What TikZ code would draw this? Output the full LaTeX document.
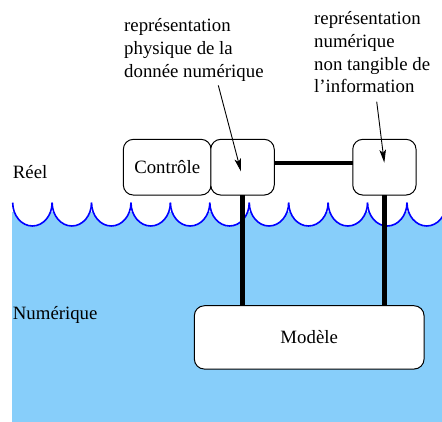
\documentclass[tikz,border=0pt]{standalone}
\usepackage{fontspec}
\setmainfont{Liberation Serif}
\usetikzlibrary{arrows.meta}
\definecolor{water}{RGB}{135,206,250}

\begin{document}
\begin{tikzpicture}[x=1pt, y=1pt,
    font=\fontsize{18.8}{22.9}\selectfont,
    box/.style={draw, line width=1pt, fill=white, rounded corners=10pt,
        inner sep=0pt, outer sep=0pt, minimum height=55.7pt},
    note/.style={align=left, anchor=north west, inner sep=0pt},
    link/.style={line width=4.3pt},
    leader/.style={line width=0.9pt, -{Stealth[length=13pt, width=6.5pt, inset=3pt]}},
    wave/.style={blue, line width=1.6pt}]
        \useasboundingbox (0,0) rectangle (442,422);

        % the sea
        \fill[water] (12,0) rectangle (442,210);
        \foreach \i in {0,...,10} {
            \fill[white] (12.7+39.43*\i,219.3) arc[start angle=180, end angle=360, x radius=19.7, y radius=23.3] -- cycle;
            \draw[wave] (12.7+39.43*\i,219.3) arc[start angle=180, end angle=360, x radius=19.7, y radius=23.3];
        }

        \node[anchor=base west, inner sep=0pt] (reel) at (12.7,243) {Réel};
        \node[anchor=base west, inner sep=0pt] (numerique) at (12.7,102.7) {Numérique};

        \node[box, minimum width=87.7pt] (ctrl) at (167.2,254.8) {Contrôle};
        \node[box, minimum width=63.5pt] (phys) at (242.5,254.8) {};
        \node[box, minimum width=63.3pt] (info) at (384.4,254.8) {};
        \node[box, minimum width=229.7pt, minimum height=63.3pt] (model) at (309.2,84.6) {Modèle};

        \draw[link] ([yshift=3.9pt]phys.east) -- ([yshift=3.9pt]info.west);
        \draw[link] (phys.south) -- (phys.south |- model.north);
        \draw[link] (info.south) -- (info.south |- model.north);

        \node[note] (physNote) at (124,403.5) {représentation\\physique de la\\donnée numérique};
        \node[note] (infoNote) at (314,411) {représentation\\numérique\\non tangible de\\l’information};

        \draw[leader] ([xshift=94.3pt, yshift=-3.6pt]physNote.south west) -- ([xshift=-1.5pt, yshift=-4.3pt]phys.center);
        \draw[leader] ([xshift=62.7pt, yshift=-8.3pt]infoNote.south west) -- ([xshift=-0.1pt, yshift=4.5pt]info.center);
    \end{tikzpicture}
\end{document}
